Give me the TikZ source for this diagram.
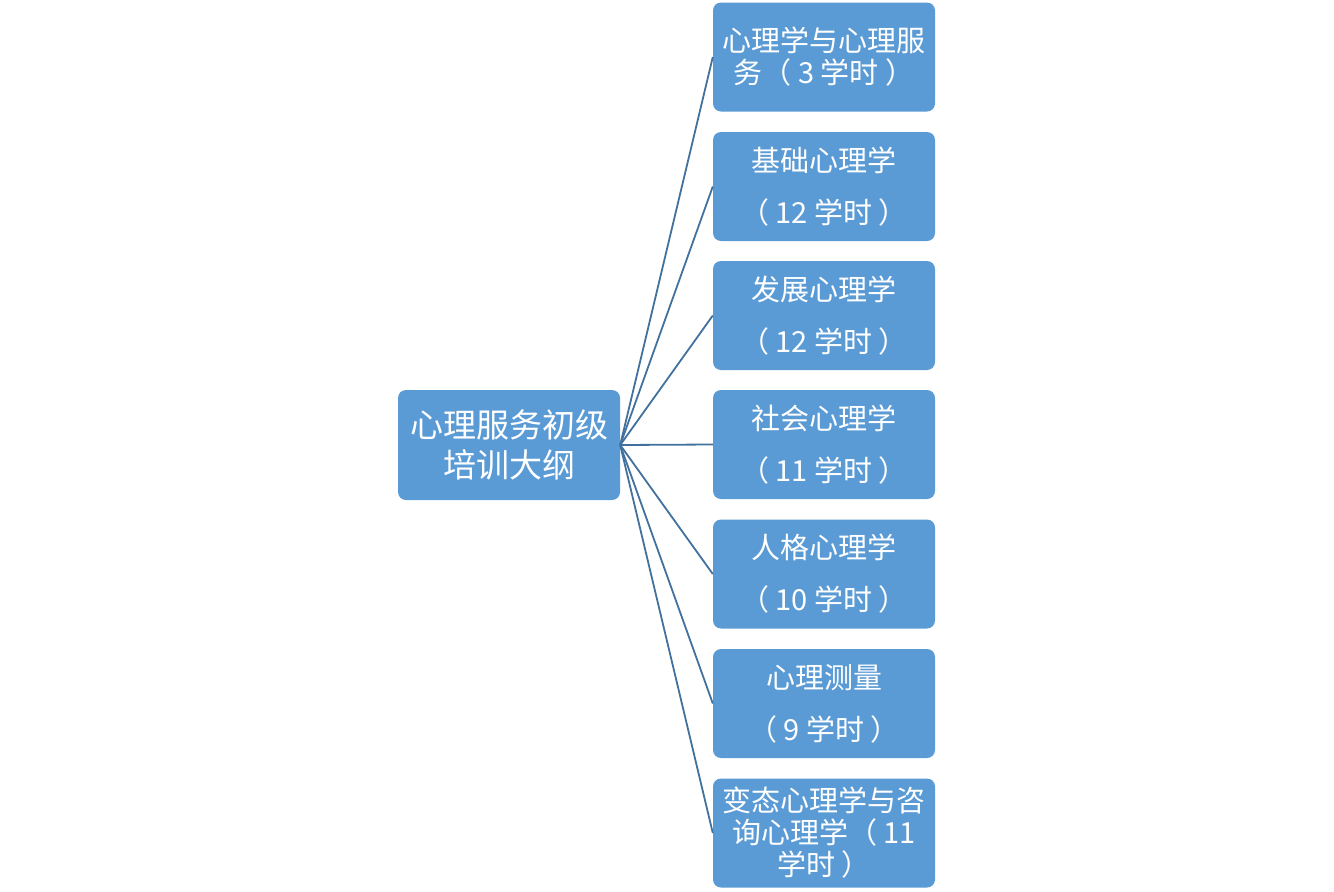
\documentclass[tikz,border=0pt]{standalone}
\usepackage{fontspec}
\setmainfont{Noto Sans CJK SC}
\definecolor{boxblue}{RGB}{91,155,213}
\definecolor{lineblue}{RGB}{65,113,156}
\begin{document}
\begin{tikzpicture}[x=1pt,y=-1pt,
  box/.style={fill=boxblue, rounded corners=8pt, minimum width=222pt, minimum height=109pt,
    text=white, align=center, inner sep=0pt},
  twoline/.style={box, font=\fontsize{29}{52}\selectfont},
  wrapline/.style={box, font=\fontsize{29}{32}\selectfont},
  rootbox/.style={box, minimum height=110pt, font=\fontsize{33}{40}\selectfont},
  link/.style={draw=lineblue, line width=1.8pt}]
\useasboundingbox (0,0) rectangle (1334,892);
\node[rootbox] (r) at (509,445) {心理服务初级\\培训大纲};
\node[wrapline] (c1) at (824,57) {心理学与心理服\\务（ 3 学时 ）};
\node[twoline] (c2) at (824,186.5) {基础心理学\\（ 12 学时 ）};
\node[twoline] (c3) at (824,315.5) {发展心理学\\（ 12 学时 ）};
\node[twoline] (c4) at (824,444.5) {社会心理学\\（ 11 学时 ）};
\node[twoline] (c5) at (824,574) {人格心理学\\（ 10 学时 ）};
\node[twoline] (c6) at (824,703.5) {心理测量\\（ 9 学时 ）};
\node[wrapline] (c7) at (824,833) {变态心理学与咨\\询心理学（ 11\\学时 ）};
\foreach \i in {1,...,7} {\draw[link] (r.east) -- (c\i.west);}
\end{tikzpicture}
\end{document}
